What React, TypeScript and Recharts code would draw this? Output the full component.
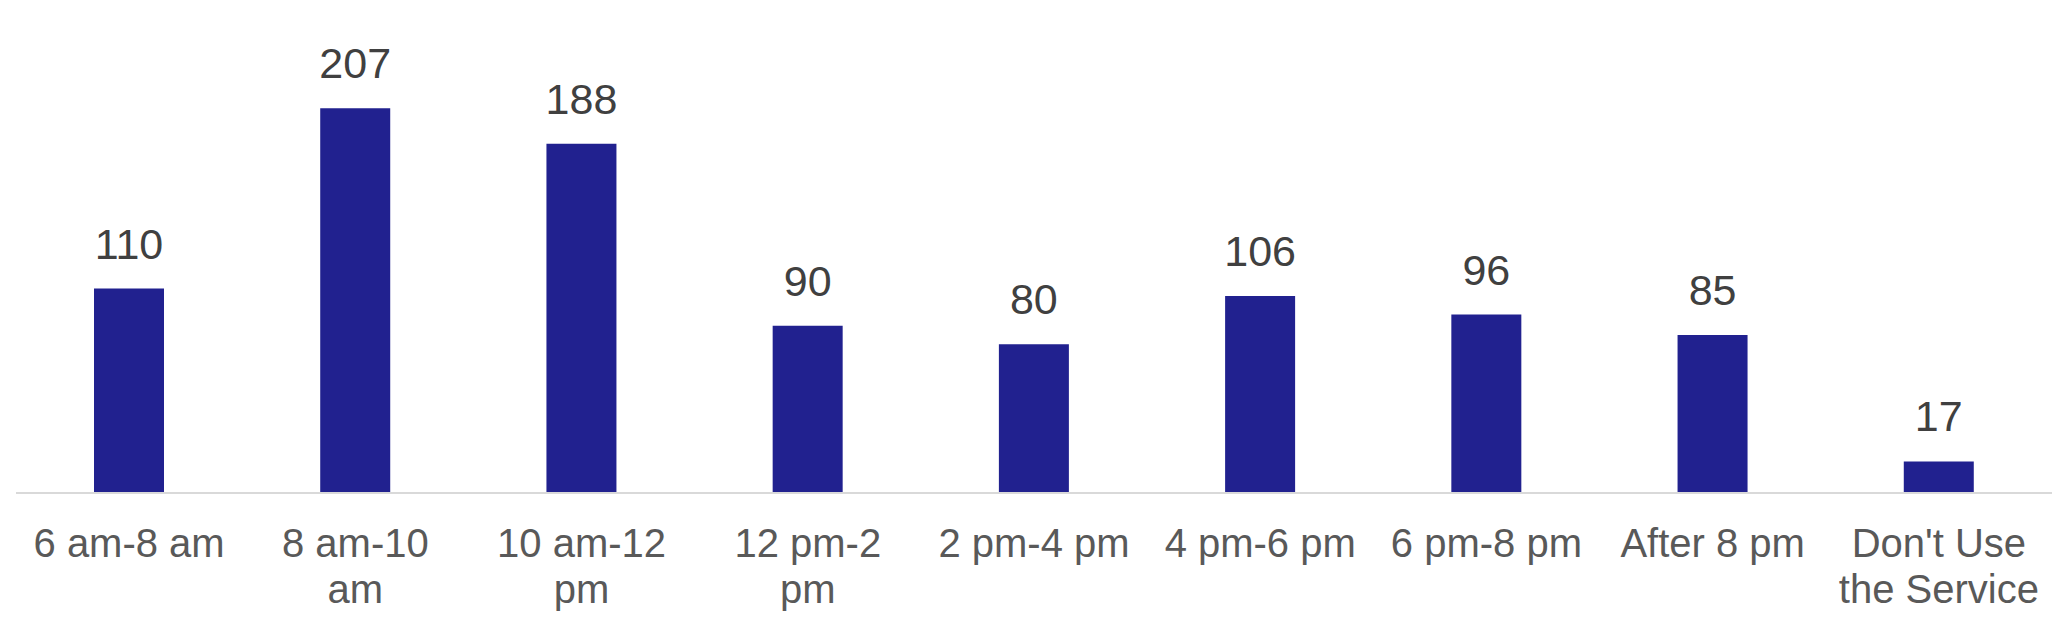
import { BarChart, Bar, XAxis, YAxis, LabelList } from "recharts";

const categories = [
  "6 am-8 am",
  "8 am-10 am",
  "10 am-12 pm",
  "12 pm-2 pm",
  "2 pm-4 pm",
  "4 pm-6 pm",
  "6 pm-8 pm",
  "After 8 pm",
  "Don't Use the Service",
];
const respondents = [110, 207, 188, 90, 80, 106, 96, 85, 17];

const data = categories.map((name, i) => ({ name, value: respondents[i] }));

const FONT = "'Liberation Sans', Arial, sans-serif";
const TICK_SIZE = 40;
const MAX_W = 204;

let ctx: CanvasRenderingContext2D | null = null;
function measure(s: string) {
  if (!ctx) ctx = document.createElement("canvas").getContext("2d");
  if (!ctx) return s.length * TICK_SIZE * 0.5;
  ctx.font = `${TICK_SIZE}px ${FONT}`;
  return ctx.measureText(s).width;
}

// greedy word wrap like the office chart does
function wrap(label: string) {
  const lines: string[] = [];
  let cur = "";
  for (const w of label.split(" ")) {
    const next = cur ? cur + " " + w : w;
    if (cur && measure(next) > MAX_W) {
      lines.push(cur);
      cur = w;
    } else cur = next;
  }
  if (cur) lines.push(cur);
  return lines;
}

function CategoryTick({ x, y, payload }: any) {
  const lines = wrap(payload.value);
  return (
    <text
      x={x}
      y={y}
      textAnchor="middle"
      fill="#595959"
      style={{ fontSize: TICK_SIZE, fontFamily: FONT }}
    >
      {lines.map((l, i) => (
        <tspan key={i} x={x} dy={i === 0 ? 0 : 46}>
          {l}
        </tspan>
      ))}
    </text>
  );
}

export default function App() {
  return (
    <div style={{ position: "absolute", left: 0, top: 0, background: "#fff" }}>
      <BarChart
        width={2068}
        height={619}
        data={data}
        margin={{ top: 47, right: 16, bottom: 0, left: 16 }}
      >
        <YAxis hide domain={[0, 240]} />
        <XAxis
          dataKey="name"
          height={126}
          interval={0}
          tickSize={0}
          tickMargin={64}
          axisLine={{ stroke: "#d9d9d9", strokeWidth: 2 }}
          tickLine={false}
          tick={<CategoryTick />}
        />
        <Bar dataKey="value" fill="#21218f" barSize={70} isAnimationActive={false}>
          <LabelList
            dataKey="value"
            position="top"
            offset={30}
            style={{ fill: "#404040", fontSize: 43, fontFamily: FONT }}
          />
        </Bar>
      </BarChart>
    </div>
  );
}
